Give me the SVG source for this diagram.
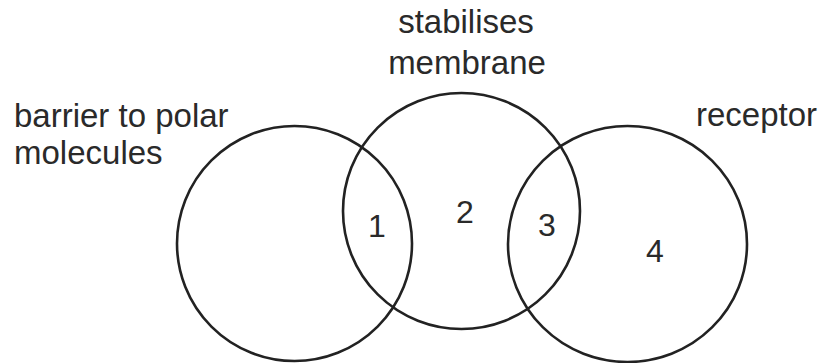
<svg xmlns="http://www.w3.org/2000/svg" width="822" height="363" viewBox="0 0 822 363">
<style>
.c{fill:none;stroke:#222;stroke-width:2.6}
.t{font-family:"Liberation Sans",Arial,sans-serif;font-size:33px;fill:#2a2a2a}
.n{font-family:"Liberation Sans",Arial,sans-serif;font-size:32px;fill:#2a2a2a;text-anchor:middle}
</style>
<rect width="822" height="363" fill="#fff"/>
<g id="set-barrier">
<ellipse class="c" cx="294.5" cy="243.5" rx="117.5" ry="117.5"/>
<text class="t" x="14" y="127">barrier to polar</text>
<text class="t" x="14" y="164">molecules</text>
</g>
<g id="set-stabilises">
<ellipse class="c" cx="461.5" cy="211" rx="118.5" ry="118"/>
<text class="t" x="466" y="33" text-anchor="middle">stabilises</text>
<text class="t" x="467" y="74" text-anchor="middle">membrane</text>
</g>
<g id="set-receptor">
<ellipse class="c" cx="627.5" cy="244" rx="119.5" ry="118"/>
<text class="t" x="817" y="126" text-anchor="end">receptor</text>
</g>
<g id="regions">
<text class="n" x="377" y="237">1</text>
<text class="n" x="465" y="223">2</text>
<text class="n" x="547" y="236">3</text>
<text class="n" x="655" y="262">4</text>
</g>
</svg>
